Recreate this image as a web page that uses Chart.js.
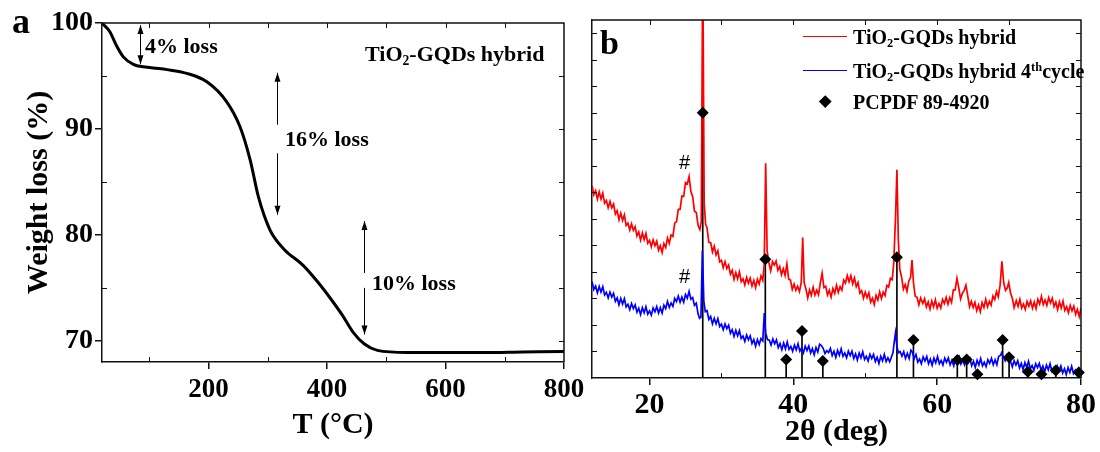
<!DOCTYPE html>
<html><head><meta charset="utf-8">
<script src="https://cdn.jsdelivr.net/npm/chart.js@4.4.1/dist/chart.umd.min.js"></script>
<style>
html,body{margin:0;padding:0;background:#fff;}
#wrap{position:relative;width:1100px;height:452px;overflow:hidden;background:#fff;}
canvas{position:absolute;left:0;top:0;}
.t{position:absolute;font-family:"Liberation Serif","Times New Roman",serif;font-weight:bold;color:#000;white-space:nowrap;line-height:1;z-index:5;}
.t sub{font-size:0.62em;position:relative;top:0.32em;vertical-align:baseline;line-height:0;}
.t sup{font-size:0.62em;position:relative;top:-0.55em;vertical-align:baseline;line-height:0;}
.hash{position:absolute;font-family:"Liberation Sans",Arial,sans-serif;font-size:20px;line-height:1;color:#000;z-index:5;}
.lg{position:absolute;height:1.4px;width:44px;z-index:5;}
.dia{position:absolute;width:8.5px;height:8.5px;background:#000;transform:rotate(45deg);z-index:5;}
</style>
</head><body>
<div id="wrap">
<canvas id="ca" width="1100" height="452"></canvas>
<canvas id="cb" width="1100" height="452"></canvas>

<div class="t" style="left:12px;top:3px;font-size:36px;">a</div>
<div class="t" style="left:145px;top:35px;font-size:22px;">4% loss</div>
<div class="t" style="left:365px;top:43px;font-size:22px;">TiO<sub>2</sub>-GQDs hybrid</div>
<div class="t" style="left:285px;top:128px;font-size:22px;">16% loss</div>
<div class="t" style="left:372px;top:272px;font-size:22px;">10% loss</div>

<div class="t" style="left:600px;top:26px;font-size:34px;">b</div>
<div class="hash" style="left:679px;top:152px;">#</div>
<div class="hash" style="left:679px;top:266px;">#</div>
<div class="lg" style="left:803px;top:36px;background:#ff0000;"></div>
<div class="lg" style="left:803px;top:70px;background:#0000ff;"></div>
<div class="dia" style="left:820.7px;top:96.7px;"></div>
<div class="t" style="left:853px;top:26.5px;font-size:20px;">TiO<sub>2</sub>-GQDs hybrid</div>
<div class="t" style="left:853px;top:60.5px;font-size:20px;">TiO<sub>2</sub>-GQDs hybrid 4<sup>th</sup>cycle</div>
<div class="t" style="left:853px;top:91.5px;font-size:20px;">PCPDF 89-4920</div>
</div>
<script>
// ---------- Panel a: TGA ----------
const tgaTemp   = [20, 33, 45, 56, 73, 100, 130, 163, 197, 230, 253, 270, 284, 294, 306, 328, 360, 385, 407, 426, 444, 463, 485, 535, 600, 661, 730, 800];
const tgaWeight = [100, 99.2, 97.8, 96.8, 96.1, 95.8, 95.6, 95.25, 94.45, 92.6, 90.2, 87.1, 83.6, 81.8, 80.2, 78.6, 77.1, 75.5, 73.9, 72.4, 70.8, 69.7, 69.1, 68.9, 68.9, 68.9, 68.95, 69.0];
const tgaXTicks = [200, 400, 600, 800];
const tgaYTicks = [70, 80, 90, 100];
const tgaXMinor = [100, 300, 500, 700];
const tgaYMinor = [75, 85, 95];
const tgaTopTicks = [100, 200, 300, 400, 500, 600, 700];
const tgaRightTicks = [70, 75, 80, 85, 90, 95];
// loss arrows: temperature, top/bottom weight, text gap
const lossArrowTemp = [84, 315, 463];
const lossArrowTop = [99.8, 95.3, 81.3];
const lossArrowBottom = [96.1, 81.9, 70.6];
const lossArrowGap = [null, [90.4, 87.7], [76.4, 75.0]];

// ---------- Panel b: XRD (2θ, intensity in arbitrary units) ----------
const hybridPattern = [[12,7.26],[12.25,6.91],[12.5,7.06],[12.75,6.75],[13,7.02],[13.25,6.75],[13.5,6.97],[13.75,6.59],[14,6.69],[14.25,6.42],[14.5,6.66],[14.75,6.42],[15,6.56],[15.25,6.18],[15.5,6.31],[15.75,5.97],[16,6.22],[16.25,5.94],[16.5,6.15],[16.75,5.75],[17,5.84],[17.25,5.58],[17.5,5.81],[17.75,5.57],[18,5.71],[18.25,5.36],[18.5,5.51],[18.75,5.2],[19,5.47],[19.25,5.22],[19.5,5.45],[19.75,5.08],[20,5.19],[20.25,4.95],[20.5,5.21],[20.75,4.99],[21,5.16],[21.25,4.82],[21.5,4.99],[21.75,4.73],[22,5.07],[22.25,4.92],[22.5,5.28],[22.75,5.08],[23,5.39],[23.25,5.34],[23.5,5.84],[23.75,5.89],[24,6.36],[24.25,6.36],[24.5,6.86],[24.75,6.85],[25,7.37],[25.25,7.32],[25.5,7.6],[25.75,7.03],[26,6.84],[26.25,6.29],[26.5,6.24],[26.75,5.76],[27.0,5.6],[27.2,5.9],[27.4,16],[27.6,6.6],[27.8,5.8],[28,5.66],[28.25,5.11],[28.5,5.11],[28.75,4.75],[29,4.97],[29.25,4.64],[29.5,4.8],[29.75,4.38],[30,4.44],[30.25,4.16],[30.5,4.39],[30.75,4.13],[31,4.26],[31.25,3.91],[31.5,4.06],[31.75,3.72],[32,3.97],[32.25,3.74],[32.5,4.0],[32.75,3.63],[33,3.74],[33.25,3.51],[33.5,3.79],[33.75,3.58],[34,3.76],[34.25,3.47],[34.5,3.68],[34.75,3.41],[35,3.72],[35.25,3.54],[35.5,3.85],[35.75,3.68],[35.95,4.3],[36.15,8.1],[36.35,4.8],[36.6,4.34],[36.85,4.04],[37.1,4.39],[37.35,4.26],[37.6,4.41],[37.85,4.06],[38.1,4.21],[38.35,3.9],[38.6,4.12],[38.85,3.87],[39.1,4.3],[39.35,3.73],[39.6,3.69],[39.85,3.34],[40.1,3.54],[40.35,3.31],[40.6,3.46],[40.85,3.26],[41.1,3.6],[41.3,5.3],[41.5,3.6],[41.75,3.36],[42,3.02],[42.25,3.32],[42.5,3.12],[42.75,3.42],[43,3.13],[43.25,3.31],[43.5,3.14],[43.75,3.59],[44.0,3.95],[44.25,3.41],[44.5,3.46],[44.75,3.13],[45,3.31],[45.25,3.05],[45.5,3.37],[45.75,3.19],[46,3.5],[46.25,3.23],[46.5,3.44],[46.75,3.31],[47,3.69],[47.25,3.58],[47.5,3.86],[47.75,3.63],[48,3.86],[48.25,3.55],[48.5,3.77],[48.75,3.44],[49,3.6],[49.25,3.2],[49.5,3.29],[49.75,3.01],[50,3.24],[50.25,3.03],[50.5,3.21],[50.75,2.86],[51,3.01],[51.25,2.77],[51.5,3.12],[51.75,2.94],[52,3.25],[52.25,3.0],[52.5,3.24],[52.75,3.11],[53,3.49],[53.25,3.43],[53.5,3.76],[53.75,3.71],[53.95,4.3],[54.2,6.0],[54.4,7.85],[54.6,5.2],[54.8,4.1],[55.05,3.81],[55.3,3.35],[55.55,3.52],[55.8,3.27],[56.05,3.65],[56.3,3.8],[56.5,4.45],[56.7,3.6],[56.95,3.08],[57.2,3.04],[57.45,2.76],[57.7,3.02],[58,2.81],[58.25,2.99],[58.5,2.68],[58.75,2.87],[59,2.6],[59.25,2.9],[59.5,2.68],[59.75,2.95],[60,2.63],[60.25,2.81],[60.5,2.64],[60.75,2.96],[61,2.81],[61.25,3.04],[61.5,2.78],[61.75,3.03],[62,2.85],[62.25,3.32],[62.5,3.32],[62.75,3.76],[63.0,3.4],[63.25,2.98],[63.5,3.19],[63.75,3.3],[64.0,3.5],[64.25,3.1],[64.5,2.69],[64.75,2.89],[65,2.66],[65.25,2.85],[65.5,2.54],[65.75,2.75],[66,2.5],[66.25,2.84],[66.5,2.66],[66.75,2.97],[67,2.68],[67.25,2.89],[67.5,2.74],[67.75,3.09],[68,2.96],[68.25,3.26],[68.5,3.06],[68.75,3.5],[69.0,4.4],[69.25,3.6],[69.5,3.3],[69.75,3.4],[69.95,3.6],[70.2,3.2],[70.45,3.01],[70.7,2.65],[71,2.92],[71.25,2.7],[71.5,2.97],[71.75,2.64],[72,2.79],[72.25,2.59],[72.5,2.89],[72.75,2.71],[73,2.91],[73.25,2.63],[73.5,2.86],[73.75,2.62],[74,2.97],[74.25,2.79],[74.5,3.08],[74.75,2.77],[75,2.94],[75.25,2.74],[75.5,3.03],[75.75,2.83],[76,3.01],[76.25,2.69],[76.5,2.86],[76.75,2.58],[77,2.87],[77.25,2.64],[77.5,2.9],[77.75,2.55],[78,2.69],[78.25,2.46],[78.5,2.74],[78.75,2.53],[79,2.71],[79.25,2.4],[79.5,2.59],[79.75,2.32],[80,2.64]];
const cycle4Pattern = [[12,3.64],[12.25,3.34],[12.5,3.47],[12.75,3.21],[13,3.45],[13.25,3.24],[13.5,3.44],[13.75,3.13],[14,3.23],[14.25,3.02],[14.5,3.24],[14.75,3.05],[15,3.19],[15.25,2.89],[15.5,3.02],[15.75,2.76],[16,3.0],[16.25,2.79],[16.5,2.99],[16.75,2.68],[17,2.78],[17.25,2.58],[17.5,2.81],[17.75,2.62],[18,2.76],[18.25,2.48],[18.5,2.63],[18.75,2.39],[19,2.65],[19.25,2.46],[19.5,2.69],[19.75,2.41],[20,2.53],[20.25,2.37],[20.5,2.64],[20.75,2.5],[21,2.69],[21.25,2.45],[21.5,2.65],[21.75,2.45],[22,2.75],[22.25,2.62],[22.5,2.89],[22.75,2.66],[23,2.83],[23.25,2.7],[23.5,3.0],[23.75,2.88],[24,3.09],[24.25,2.86],[24.5,3.05],[24.75,2.86],[25,3.15],[25.25,3.01],[25.5,3.27],[25.75,2.97],[26,3.03],[26.25,2.74],[26.5,2.82],[26.75,2.42],[26.95,2.25],[27.15,2.3],[27.35,4.8],[27.55,2.9],[27.75,2.5],[28,2.54],[28.25,2.21],[28.5,2.32],[28.75,2.04],[29,2.25],[29.25,2.04],[29.5,2.24],[29.75,1.94],[30,2.03],[30.25,1.82],[30.5,2.04],[30.75,1.86],[31,1.99],[31.25,1.69],[31.5,1.82],[31.75,1.57],[32,1.8],[32.25,1.59],[32.5,1.79],[32.75,1.49],[33,1.58],[33.25,1.38],[33.5,1.62],[33.75,1.44],[34,1.59],[34.25,1.3],[34.5,1.45],[34.75,1.2],[35,1.45],[35.25,1.26],[35.5,1.49],[35.75,1.4],[35.96,2.45],[36.15,1.7],[36.4,1.45],[36.65,1.43],[36.9,1.24],[37.15,1.47],[37.4,1.29],[37.65,1.44],[37.9,1.15],[38.15,1.3],[38.4,1.07],[38.65,1.32],[38.9,1.1],[39.15,1.36],[39.4,1.08],[39.65,1.19],[39.9,1.01],[40.15,1.24],[40.4,1.06],[40.65,1.29],[40.9,1.01],[41.15,1.13],[41.4,0.95],[41.65,1.2],[41.9,1.04],[42.15,1.21],[42.4,0.94],[42.65,1.11],[42.9,0.88],[43.15,1.15],[43.4,0.98],[43.65,1.27],[43.9,1.22],[44.15,1.12],[44.4,0.92],[44.65,1.03],[44.9,0.96],[45.15,1.12],[45.4,0.85],[45.65,1.01],[45.9,0.78],[46.15,1.04],[46.4,0.86],[46.65,1.1],[46.9,0.82],[47.15,0.94],[47.4,0.76],[47.65,1.01],[47.9,0.85],[48.15,1.01],[48.4,0.74],[48.65,0.91],[48.9,0.68],[49.15,0.94],[49.4,0.76],[49.65,0.99],[49.9,0.7],[50.15,0.82],[50.4,0.64],[50.65,0.89],[50.9,0.73],[51.15,0.89],[51.4,0.62],[51.65,0.78],[51.9,0.55],[52.15,0.82],[52.4,0.65],[52.65,0.89],[52.9,0.62],[53.15,0.76],[53.4,0.61],[53.65,0.8],[53.85,0.95],[54.05,1.4],[54.2,1.7],[54.4,1.2],[54.6,0.95],[54.85,1.0],[55.1,0.82],[55.35,0.99],[55.6,0.74],[55.85,0.93],[56.1,0.73],[56.35,1.05],[56.55,0.98],[56.8,0.73],[57.05,0.89],[57.3,0.6],[57.55,0.72],[57.8,0.54],[58.05,0.8],[58.3,0.64],[58.55,0.81],[58.8,0.54],[59.05,0.71],[59.3,0.48],[59.55,0.75],[59.8,0.57],[60.05,0.81],[60.3,0.54],[60.55,0.66],[60.8,0.49],[61.05,0.75],[61.3,0.59],[61.55,0.76],[61.8,0.5],[62.05,0.67],[62.3,0.46],[62.55,0.76],[62.8,0.8],[63.05,0.83],[63.3,0.53],[63.55,0.66],[63.8,0.5],[64.05,0.77],[64.3,0.58],[64.55,0.73],[64.8,0.46],[65.05,0.63],[65.3,0.4],[65.55,0.67],[65.8,0.49],[66.05,0.73],[66.3,0.46],[66.55,0.59],[66.8,0.43],[67.05,0.69],[67.3,0.55],[67.55,0.74],[67.8,0.5],[68.05,0.69],[68.3,0.5],[68.55,0.82],[68.8,0.85],[68.95,0.95],[69.2,0.8],[69.45,0.65],[69.7,0.85],[69.95,0.6],[70.2,0.63],[70.45,0.42],[70.7,0.65],[70.95,0.49],[71.2,0.65],[71.45,0.38],[71.7,0.55],[71.95,0.32],[72.2,0.58],[72.45,0.4],[72.7,0.63],[72.95,0.35],[73.2,0.47],[73.45,0.29],[73.7,0.54],[73.95,0.39],[74.2,0.55],[74.45,0.29],[74.7,0.45],[74.95,0.23],[75.2,0.49],[75.45,0.31],[75.7,0.54],[75.95,0.26],[76.2,0.38],[76.45,0.2],[76.7,0.45],[76.95,0.3],[77.2,0.46],[77.45,0.19],[77.7,0.35],[77.95,0.13],[78.2,0.39],[78.45,0.21],[78.7,0.44],[78.95,0.17],[79.2,0.29],[79.45,0.11],[79.7,0.36],[80,0.2]];
const pcpdfAngle = [27.4, 36.1, 39.0, 41.2, 44.1, 54.4, 56.7, 62.8, 64.1, 65.6, 69.1, 70.0, 72.6, 74.5, 76.5, 79.7];
const pcpdfIntensity = [10.0, 4.48, 0.7, 1.77, 0.64, 4.55, 1.43, 0.68, 0.7, 0.14, 1.43, 0.78, 0.24, 0.14, 0.28, 0.21];
const xrdXTicks = [20, 40, 60, 80];
const xrdXMinor = [30, 50, 70];
const xrdTopTicks = [20, 30, 40, 50, 60, 70];
const xrdYTicks = [1, 2, 3, 4, 5, 6, 7, 8, 9, 10, 11, 12, 13];

const serif = '"Liberation Serif", "Times New Roman", serif';
const INK = '#111';

const framePlugin = {
  id: 'frame',
  afterDraw(chart, args, o) {
    const {ctx, chartArea: a} = chart;
    const x = chart.scales.x, y = chart.scales.y;
    ctx.save();
    ctx.strokeStyle = INK; ctx.lineWidth = 1.5;
    ctx.beginPath();
    ctx.moveTo(a.left, a.top); ctx.lineTo(a.right, a.top); ctx.lineTo(a.right, a.bottom);
    ctx.stroke();
    ctx.lineWidth = 1;
    ctx.beginPath();
    const L = o.len || 5;
    (o.top || []).forEach(v => { const p = Math.round(x.getPixelForValue(v)) + 0.5; ctx.moveTo(p, a.top); ctx.lineTo(p, a.top + L); });
    (o.bottom || []).forEach(v => { const p = Math.round(x.getPixelForValue(v)) + 0.5; ctx.moveTo(p, a.bottom); ctx.lineTo(p, a.bottom - L); });
    (o.right || []).forEach(v => { const p = Math.round(y.getPixelForValue(v)) + 0.5; ctx.moveTo(a.right, p); ctx.lineTo(a.right - L, p); });
    (o.left || []).forEach(v => { const p = Math.round(y.getPixelForValue(v)) + 0.5; ctx.moveTo(a.left, p); ctx.lineTo(a.left + L, p); });
    ctx.stroke();
    ctx.restore();
  }
};

function arrowHead(ctx, x, y, dir) {
  ctx.beginPath();
  ctx.moveTo(x, y);
  ctx.lineTo(x - 3, y - dir * 9);
  ctx.lineTo(x + 3, y - dir * 9);
  ctx.closePath();
  ctx.fill();
}
const arrowPlugin = {
  id: 'lossArrows',
  afterDatasetsDraw(chart) {
    const {ctx} = chart; const x = chart.scales.x, y = chart.scales.y;
    ctx.save(); ctx.strokeStyle = '#000'; ctx.fillStyle = '#000'; ctx.lineWidth = 1;
    lossArrowTemp.forEach((t, i) => {
      const px = Math.round(x.getPixelForValue(t)) + 0.5;
      const y1 = y.getPixelForValue(lossArrowTop[i]);
      const y2 = y.getPixelForValue(lossArrowBottom[i]);
      const g = lossArrowGap[i];
      ctx.beginPath();
      if (g) {
        ctx.moveTo(px, y1); ctx.lineTo(px, y.getPixelForValue(g[0]));
        ctx.moveTo(px, y.getPixelForValue(g[1])); ctx.lineTo(px, y2);
      } else { ctx.moveTo(px, y1); ctx.lineTo(px, y2); }
      ctx.stroke();
      arrowHead(ctx, px, y1, -1);
      arrowHead(ctx, px, y2, 1);
    });
    ctx.restore();
  }
};

const titleFont = {family: serif, size: 30, weight: 'bold'};

new Chart(document.getElementById('ca'), {
  type: 'line',
  data: { datasets: [{
    data: tgaTemp.map((t, i) => ({x: t, y: tgaWeight[i]})),
    borderColor: '#000', borderWidth: 3, pointRadius: 0,
    cubicInterpolationMode: 'monotone', fill: false
  }]},
  options: {
    responsive: false, animation: false, devicePixelRatio: 1,
    layout: {padding: {left: 0, top: 23, right: 536, bottom: 0}},
    plugins: {
      legend: {display: false}, tooltip: {enabled: false},
      frame: {top: tgaTopTicks, bottom: tgaXMinor, right: tgaRightTicks, left: tgaYMinor, len: 5}
    },
    scales: {
      x: {
        type: 'linear', min: 20, max: 800,
        afterBuildTicks: s => { s.ticks = tgaXTicks.map(v => ({value: v})); },
        afterFit: s => { s.height = 90; },
        grid: {drawOnChartArea: false, tickLength: 7, color: INK, lineWidth: 1.5},
        border: {color: INK, width: 1.5},
        ticks: {font: {family: serif, size: 27, weight: 'bold'}, color: '#000', padding: 5, maxRotation: 0, autoSkip: false},
        title: {display: true, text: 'T (°C)', font: titleFont, color: '#000', padding: {top: 0, bottom: 9}}
      },
      y: {
        type: 'linear', min: 68, max: 100,
        afterBuildTicks: s => { s.ticks = tgaYTicks.map(v => ({value: v})); },
        afterFit: s => { s.width = 102; },
        grid: {drawOnChartArea: false, tickLength: 7, color: INK, lineWidth: 1.5},
        border: {color: INK, width: 1.5},
        ticks: {font: {family: serif, size: 28, weight: 'bold'}, color: '#000', padding: 2, autoSkip: false},
        title: {display: true, text: 'Weight loss (%)', font: titleFont, color: '#000', padding: {top: 21, bottom: 0}}
      }
    }
  },
  plugins: [framePlugin, arrowPlugin]
});

new Chart(document.getElementById('cb'), {
  type: 'line',
  data: { datasets: [
    { type: 'scatter', label: 'PCPDF 89-4920', data: pcpdfAngle.map((a, i) => ({x: a, y: pcpdfIntensity[i]})),
      pointStyle: 'rectRot', pointRadius: 6, backgroundColor: '#000', borderColor: '#000', borderWidth: 0, showLine: false, clip: false, order: 0 },
    { label: 'TiO2-GQDs hybrid', data: hybridPattern.map(p => ({x: p[0], y: p[1]})),
      borderColor: '#ff0000', borderWidth: 1.7, pointRadius: 0, tension: 0, fill: false, order: 1 },
    { label: 'TiO2-GQDs hybrid 4th cycle', data: cycle4Pattern.map(p => ({x: p[0], y: p[1]})),
      borderColor: '#0000ff', borderWidth: 1.7, pointRadius: 0, tension: 0, fill: false, order: 2 },
    { type: 'bar', label: 'sticks', data: pcpdfAngle.map((a, i) => ({x: a, y: pcpdfIntensity[i]})),
      backgroundColor: '#000', barThickness: 1, grouped: false, order: 3 }
  ]},
  options: {
    responsive: false, animation: false, devicePixelRatio: 1,
    layout: {padding: {left: 0, top: 20, right: 19, bottom: 0}},
    plugins: {
      legend: {display: false}, tooltip: {enabled: false},
      frame: {top: xrdTopTicks, bottom: xrdXMinor, right: xrdYTicks, left: xrdYTicks, len: 5}
    },
    scales: {
      x: {
        type: 'linear', min: 12, max: 80, offset: false,
        afterBuildTicks: s => { s.ticks = xrdXTicks.map(v => ({value: v})); },
        afterFit: s => { s.height = 74; },
        grid: {drawOnChartArea: false, tickLength: 7, color: INK, lineWidth: 1.5, offset: false},
        border: {color: INK, width: 1.5},
        ticks: {font: {family: serif, size: 30, weight: 'bold'}, color: '#000', padding: 2, maxRotation: 0, autoSkip: false},
        title: {display: true, text: '2θ (deg)', font: titleFont, color: '#000', padding: {top: 0, bottom: 2}}
      },
      y: {
        type: 'linear', min: 0, max: 13.5,
        afterBuildTicks: s => { s.ticks = xrdYTicks.map(v => ({value: v})); },
        afterFit: s => { s.width = 592; },
        grid: {drawOnChartArea: false, drawTicks: false},
        border: {color: INK, width: 1.5},
        ticks: {display: false}
      }
    }
  },
  plugins: [framePlugin]
});
</script>
</body></html>
